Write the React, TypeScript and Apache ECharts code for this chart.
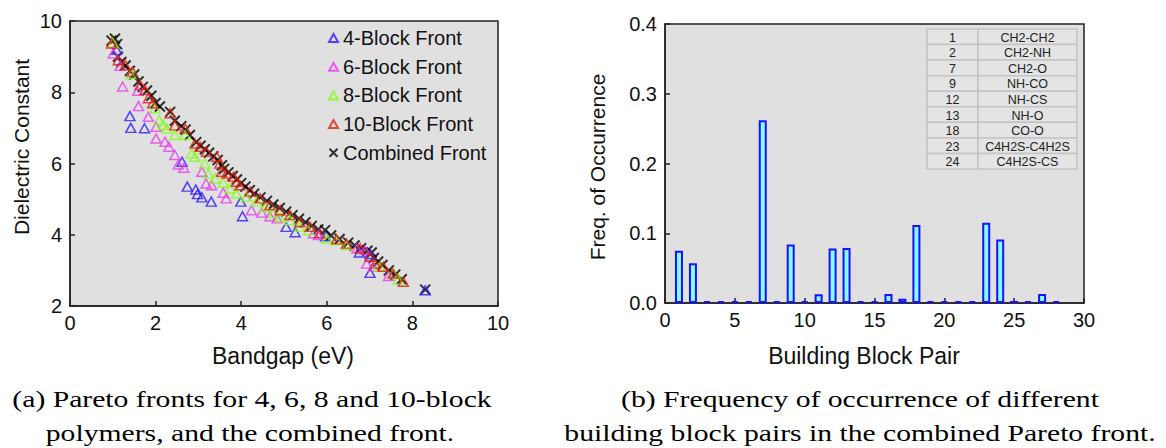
import React, { useEffect, useRef } from "react";
import * as echarts from "echarts";

// ---------- Data ----------
const fourBlock: [number, number][] = [
  [1.09, 9.19], [1.4, 7.33], [1.42, 7.0], [1.74, 6.99], [2.62, 6.05], [2.74, 5.35],
  [2.94, 5.27], [2.98, 5.14], [3.08, 5.05], [3.3, 4.93], [3.99, 4.93], [4.03, 4.52],
  [5.05, 4.22], [5.26, 4.07], [5.97, 3.96], [6.76, 3.5], [7.01, 3.46], [7.01, 2.93],
  [8.3, 2.44],
];
const sixBlock: [number, number][] = [
  [1.01, 9.09], [1.17, 8.74], [1.23, 8.16], [1.58, 8.04], [1.6, 7.61], [1.83, 7.31],
  [2.01, 7.03], [2.01, 6.7], [2.22, 6.61], [2.31, 6.47], [2.45, 6.24], [2.53, 5.97],
  [2.66, 5.88], [3.08, 5.77], [3.18, 5.44], [3.31, 5.39], [3.58, 5.18], [3.65, 5.02],
  [4.24, 4.69], [4.48, 4.62], [4.67, 4.52], [4.84, 4.46], [5.69, 4.04], [5.8, 3.99],
  [6.7, 3.61], [6.89, 3.57], [6.93, 3.19], [7.09, 3.1], [7.44, 2.84],
];
const eightBlock: [number, number][] = [
  [1.0, 9.39], [1.42, 8.51], [1.99, 7.55], [2.08, 7.22], [2.18, 7.08], [2.26, 6.98],
  [2.45, 6.8], [2.69, 6.8], [2.84, 6.28], [2.92, 6.19], [3.15, 6.0], [3.23, 5.72],
  [3.39, 5.58], [3.58, 5.46], [3.74, 5.3], [3.89, 5.16], [4.13, 5.07], [4.36, 4.93],
  [4.56, 4.77], [4.75, 4.6], [4.91, 4.5], [5.14, 4.41], [5.37, 4.22], [5.57, 4.13],
  [6.0, 3.89], [6.23, 3.85], [6.46, 3.71], [7.24, 3.1], [7.55, 2.91], [7.67, 2.74],
];
const tenBlock: [number, number][] = [
  [0.97, 9.37], [1.13, 8.9], [1.29, 8.76], [1.46, 8.58], [1.64, 8.2], [1.75, 8.06],
  [1.83, 7.83], [1.93, 7.69], [2.34, 7.41], [2.45, 7.07], [2.69, 6.98], [2.92, 6.56],
  [3.04, 6.47], [3.19, 6.33], [3.43, 6.19], [3.5, 6.0], [3.54, 5.77], [3.66, 5.72],
  [3.82, 5.63], [3.89, 5.49], [3.97, 5.39], [4.21, 5.21], [4.44, 5.02], [4.67, 4.83],
  [4.91, 4.69], [5.14, 4.55], [5.37, 4.36], [5.61, 4.22], [5.84, 4.04], [6.23, 3.87],
  [6.46, 3.75], [6.78, 3.62], [7.01, 3.39], [7.13, 3.19], [7.32, 3.1], [7.55, 2.91],
  [7.79, 2.68],
];
const combinedFront: [number, number][] = [
  [0.97, 9.45], [1.05, 9.5], [1.1, 9.35], [1.12, 9.0], [1.2, 8.85], [1.3, 8.75],
  [1.4, 8.6], [1.5, 8.5], [1.6, 8.3], [1.7, 8.15], [1.8, 8.05], [1.9, 7.9],
  [2.0, 7.7], [2.1, 7.6], [2.34, 7.45], [2.45, 7.2], [2.6, 7.05], [2.7, 6.95],
  [2.8, 6.8], [2.95, 6.6], [3.05, 6.5], [3.15, 6.4], [3.25, 6.3], [3.35, 6.2],
  [3.45, 6.1], [3.55, 5.95], [3.6, 5.85], [3.7, 5.75], [3.8, 5.65], [3.9, 5.55],
  [4.0, 5.45], [4.1, 5.35], [4.2, 5.25], [4.3, 5.15], [4.45, 5.05], [4.6, 4.95],
  [4.75, 4.85], [4.9, 4.75], [5.05, 4.65], [5.2, 4.55], [5.35, 4.45], [5.5, 4.35],
  [5.65, 4.25], [5.8, 4.15], [5.96, 4.13], [6.1, 3.98], [6.3, 3.88], [6.5, 3.78],
  [6.65, 3.7], [6.8, 3.62], [6.95, 3.55], [7.05, 3.5], [7.1, 3.35], [7.2, 3.25],
  [7.3, 3.15], [7.45, 3.0], [7.6, 2.88], [7.75, 2.75], [8.3, 2.46],
];
const seriesNames = ["4-Block Front", "6-Block Front", "8-Block Front", "10-Block Front", "Combined Front"];

const pairIndex = [1, 2, 3, 4, 5, 6, 7, 8, 9, 10, 11, 12, 13, 14, 15, 16, 17, 18, 19, 20, 21, 22, 23, 24, 25, 26, 27, 28];
const pairFreq = [
  0.075, 0.057, 0, 0, 0, 0, 0.262, 0, 0.084, 0.002, 0.0125, 0.078, 0.079, 0, 0, 0.013,
  0.006, 0.112, 0, 0, 0.002, 0, 0.115, 0.091, 0.003, 0, 0.013, 0,
];

const tableIds = ["1", "2", "7", "9", "12", "13", "18", "23", "24"];
const tableNames = ["CH2-CH2", "CH2-NH", "CH2-O", "NH-CO", "NH-CS", "NH-O", "CO-O", "C4H2S-C4H2S", "C4H2S-CS"];

const captionA = ["(a) Pareto fronts for 4, 6, 8 and 10-block", "polymers, and the combined front."];
const captionB = ["(b) Frequency of occurrence of different", "building block pairs in the combined Pareto front."];

// ---------- Styles ----------
const SANS = "'Liberation Sans', Arial, Helvetica, sans-serif";
const SERIF = "'Liberation Serif', 'Times New Roman', serif";
const PLOT_BG = "#e0e0e0";
const FRAME = "#222";

export default function App() {
  const ref = useRef<HTMLDivElement>(null);
  useEffect(() => {
    if (!ref.current) return;
    const chart = echarts.init(ref.current, undefined, { renderer: "svg" });

    const axisCommon = {
      axisLine: { show: true, lineStyle: { color: FRAME, width: 1.5 } },
      axisTick: { show: true, inside: true, length: 5, lineStyle: { color: FRAME, width: 1.5 } },
      splitLine: { show: false },
      axisLabel: { color: "#111", fontSize: 20, fontFamily: SANS },
    };

    const tri = (name: string, data: [number, number][], color: string) => ({
      name,
      type: "scatter",
      xAxisIndex: 0,
      yAxisIndex: 0,
      data,
      symbol: "triangle",
      symbolSize: [10, 9],
      itemStyle: { color: "rgba(0,0,0,0)", borderColor: color, borderWidth: 1.5 },
    });

    const cellX = 927, divX = 978, cellR = 1077, cellTop = 29, rowH = 15.56;
    const tableGraphics: any[] = [];
    tableIds.forEach((id, i) => {
      const y = cellTop + i * rowH;
      tableGraphics.push(
        { type: "rect", shape: { x: cellX, y, width: divX - cellX, height: rowH }, style: { fill: "#e4e4e4", stroke: "#c4c4c4", lineWidth: 1.5 } },
        { type: "rect", shape: { x: divX, y, width: cellR - divX, height: rowH }, style: { fill: "#e4e4e4", stroke: "#c4c4c4", lineWidth: 1.5 } },
        { type: "text", x: (cellX + divX) / 2, y: y + rowH / 2 + 1, style: { text: id, fill: "#222", font: `12.5px ${SANS}`, textAlign: "center", textVerticalAlign: "middle" } },
        { type: "text", x: (divX + cellR) / 2, y: y + rowH / 2 + 1, style: { text: tableNames[i], fill: "#222", font: `12.5px ${SANS}`, textAlign: "center", textVerticalAlign: "middle" } },
      );
    });

    const cap = (text: string, x: number, y: number) => ({
      type: "text", x, y, scaleX: 1.29,
      style: { text, fill: "#000", font: `23px ${SERIF}`, textAlign: "center", textVerticalAlign: "middle" },
    });
    const captionGraphics = [
      cap(captionA[0], 252, 399),
      cap(captionA[1], 250, 433),
      cap(captionB[0], 860, 399),
      cap(captionB[1], 860, 433),
    ];

    const nameGraphics = [
      { type: "text", x: 21, y: 147, rotation: Math.PI / 2, style: { text: "Dielectric Constant", fill: "#111", font: `21px ${SANS}`, textAlign: "center", textVerticalAlign: "middle" } },
      { type: "text", x: 597, y: 167, rotation: Math.PI / 2, style: { text: "Freq. of Occurrence", fill: "#111", font: `21px ${SANS}`, textAlign: "center", textVerticalAlign: "middle" } },
      { type: "text", x: 283, y: 356, style: { text: "Bandgap (eV)", fill: "#111", font: `23px ${SANS}`, textAlign: "center", textVerticalAlign: "middle" } },
      { type: "text", x: 864, y: 356, style: { text: "Building Block Pair", fill: "#111", font: `23px ${SANS}`, textAlign: "center", textVerticalAlign: "middle" } },
    ];

    chart.setOption({
      animation: false,
      backgroundColor: "#fff",
      grid: [
        { left: 70, top: 21, width: 428, height: 285, show: true, backgroundColor: PLOT_BG, borderColor: FRAME, borderWidth: 1.5 },
        { left: 665, top: 24, width: 419, height: 279, show: true, backgroundColor: PLOT_BG, borderColor: FRAME, borderWidth: 1.5 },
      ],
      xAxis: [
        { ...axisCommon, gridIndex: 0, type: "value", min: 0, max: 10, interval: 2, axisLabel: { ...axisCommon.axisLabel, margin: 7 } },
        { ...axisCommon, gridIndex: 1, type: "value", min: 0, max: 30, interval: 5, axisLabel: { ...axisCommon.axisLabel, margin: 7 } },
      ],
      yAxis: [
        { ...axisCommon, gridIndex: 0, type: "value", min: 2, max: 10, interval: 2, axisLabel: { ...axisCommon.axisLabel, margin: 8 } },
        {
          ...axisCommon, gridIndex: 1, type: "value", min: 0, max: 0.4, interval: 0.1,
          axisLabel: { ...axisCommon.axisLabel, margin: 8, formatter: (v: number) => v.toFixed(1) },
        },
      ],
      legend: {
        data: seriesNames,
        orient: "vertical",
        left: 323,
        top: 23,
        itemWidth: 9,
        itemHeight: 8,
        itemGap: 8.7,
        selectedMode: false,
        textStyle: { fontSize: 20, fontFamily: SANS, color: "#111", lineHeight: 20 },
      },
      series: [
        {
          name: "Combined Front",
          type: "scatter",
          xAxisIndex: 0,
          yAxisIndex: 0,
          data: combinedFront,
          symbol: "path://M0,0L10,10M10,0L0,10",
          symbolSize: 10,
          itemStyle: { color: "rgba(0,0,0,0)", borderColor: "#000", borderWidth: 2 },
        },
        tri("4-Block Front", fourBlock, "#2a1aff"),
        tri("6-Block Front", sixBlock, "#e83cf0"),
        tri("8-Block Front", eightBlock, "#80ff10"),
        tri("10-Block Front", tenBlock, "#e02010"),
        {
          name: "freq",
          type: "bar",
          xAxisIndex: 1,
          yAxisIndex: 1,
          data: pairIndex.map((x, i) => [x, pairFreq[i]]),
          barWidth: 8,
          barMinHeight: 2,
          itemStyle: { color: "#80ffff", borderColor: "#1a10ff", borderWidth: 2 },
        },
      ],
      graphic: [...tableGraphics, ...nameGraphics, ...captionGraphics],
    });
    return () => chart.dispose();
  }, []);
  return <div ref={ref} style={{ position: "fixed", left: 0, top: 0, width: 1166, height: 448 }} />;
}
